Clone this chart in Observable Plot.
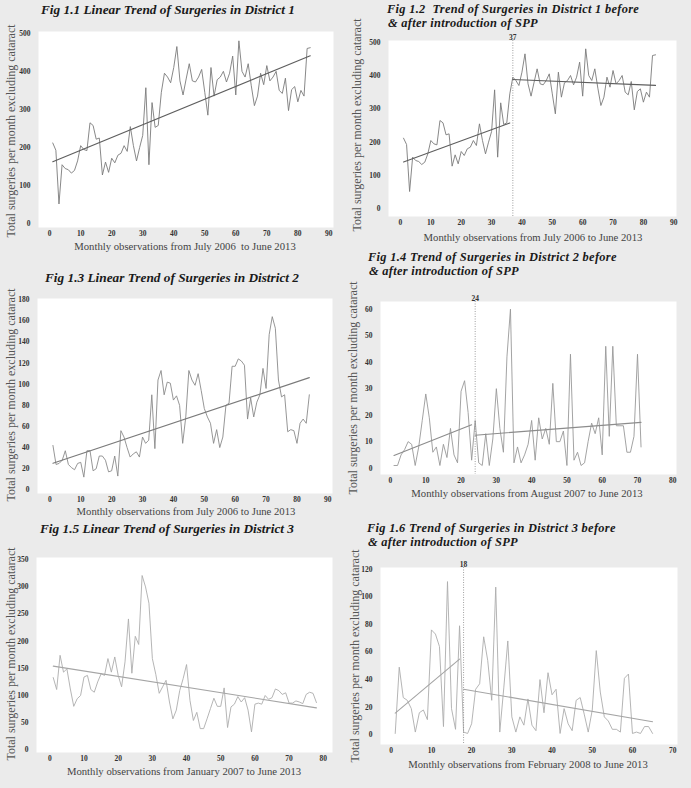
<!DOCTYPE html>
<html><head><meta charset="utf-8">
<script src="https://cdn.jsdelivr.net/npm/d3@7"></script>
<script src="https://cdn.jsdelivr.net/npm/@observablehq/plot@0.6"></script>
<style>
body{margin:0;background:#ebebeb;}
#root{position:relative;width:691px;height:788px;background:#ebebeb;overflow:hidden;font-family:"Liberation Serif","Times New Roman",serif;}
.t{position:absolute;font-weight:bold;font-style:italic;font-size:13.3px;color:#1a1a1a;white-space:pre;line-height:12px;height:12px}
.t2{font-size:12.4px;letter-spacing:0.3px}
.tc{transform:translate(-50%,-50%)}
.xl{position:absolute;font-size:10.7px;color:#444;white-space:pre;transform:translate(-50%,-50%)}
.yl{position:absolute;font-size:12px;color:#555;white-space:nowrap;transform:translate(-50%,-50%) rotate(-90deg)}
.p{position:absolute}
</style></head><body><div id="root"></div>
<script>
// District 1, July 2006 - June 2013
const dist1 = [212,193,52,155,145,142,133,140,165,205,195,192,265,258,222,225,128,162,135,172,160,180,185,205,190,255,205,165,200,232,357,155,318,253,258,345,395,385,370,410,465,375,338,380,420,375,372,385,405,345,285,410,335,378,385,400,372,395,440,338,480,400,385,420,362,310,335,395,365,415,375,385,400,350,342,382,297,352,360,320,350,335,460,462];
// District 2, July 2006 - June 2013
const dist2 = [42,24,25,28,37,24,21,19,25,26,12,37,37,18,20,32,32,28,17,18,32,13,56,50,40,31,34,36,31,50,44,47,90,39,104,113,90,102,101,85,89,80,44,69,113,104,99,110,94,77,69,63,44,57,40,50,80,82,117,117,124,122,118,67,87,69,83,90,115,96,147,164,153,104,88,90,55,57,56,44,63,67,63,90];
// District 2, August 2007 - June 2013
const dist2b = [1,1,5,7,10,9,1,8,18,28,19,6,8,1,9,4,15,5,2,29,33,21,3,18,2,1,13,1,11,30,15,6,42,60,2,8,2,5,9,18,3,19,11,15,9,32,10,10,14,1,43,3,6,1,2,10,17,13,19,5,46,12,46,16,16,16,6,6,12,43,8];
// District 3, January 2007 - June 2013
const dist3 = [133,111,174,143,149,112,80,94,100,134,137,111,106,125,140,137,168,143,171,137,116,162,241,141,209,194,321,300,270,168,139,104,116,128,88,57,73,109,131,157,91,54,69,39,39,57,76,95,80,80,114,41,79,84,98,88,96,73,33,84,86,84,100,93,96,112,109,102,105,86,86,90,88,85,102,106,104,87];
// District 3, February 2008 - June 2013
const dist3b = [1,49,27,25,19,2,16,18,11,76,73,64,6,111,19,4,79,2,1,8,33,37,71,54,25,107,2,34,68,13,2,13,7,26,7,3,40,16,45,29,33,1,19,8,3,25,27,15,2,18,61,31,13,10,4,4,2,41,44,1,2,1,6,6,1];

const titles = [
  ["Fig 1.1 Linear Trend of Surgeries in District 1"],
  ["Fig 1.2  Trend of Surgeries in District 1 before", "& after introduction of SPP"],
  ["Fig 1.3 Linear Trend of Surgeries in District 2"],
  ["Fig 1.4 Trend of Surgeries in District 2 before", "& after introduction of SPP"],
  ["Fig 1.5 Linear Trend of Surgeries in District 3"],
  ["Fig 1.6 Trend of Surgeries in District 3 before", "& after introduction of SPP"]
];
const xLabels = [
  "Monthly observations from July 2006  to June 2013",
  "Monthly observations from July 2006 to June 2013",
  "Monthly observations from July 2006 to June 2013",
  "Monthly observations from August 2007 to June 2013",
  "Monthly observations from January 2007 to June 2013",
  "Monthly observations from February 2008 to June 2013"
];
const yLabel = "Total surgeries per month excluding cataract";
const breaks = [null, 37, null, 24, null, 18];
const xTicks = [d3.range(0,91,10), d3.range(0,91,10), d3.range(0,91,10), d3.range(0,81,10), d3.range(0,81,10), d3.range(0,71,10)];
const yTicks = [d3.range(0,501,100), d3.range(0,501,100), d3.range(0,181,20), d3.range(0,61,10), d3.range(0,351,50), d3.range(0,121,20)];
const series = [dist1, dist1, dist2, dist2b, dist3, dist3b];

const layout = [
  {plot:[38,31,333,227], xd:[-3.6,91.5], yd:[-9.7,504.5], t:{c:[168,10]}, xl:[185,246], yl:[11,131], lc:"#7a7a7a", tc:"#5e5e5e"},
  {plot:[388,40,676,216], xd:[-3.95,90.9], yd:[-23,505], t:{l:[387,3]}, xl:[533,237], yl:[357,125], lc:"#7a7a7a", tc:"#5e5e5e"},
  {plot:[37,298,332,493], xd:[-4,91.5], yd:[-3.5,181.2], t:{c:[172,278]}, xl:[186,511], yl:[11,395], lc:"#8a8a8a", tc:"#7a7a7a"},
  {plot:[380,301,676,474], xd:[-2.83,81.05], yd:[-2.4,62.9], t:{l:[368,251]}, xl:[527,493], yl:[353,388], lc:"#999", tc:"#8c8c8c"},
  {plot:[36,557,332,752], xd:[-3.9,82.7], yd:[-5,354.2], t:{c:[167,529]}, xl:[184,771], yl:[11,654], lc:"#adadad", tc:"#a5a5a5"},
  {plot:[380,567,677,744], xd:[-2.66,71.2], yd:[-7,121.2], t:{l:[367,522]}, xl:[528,764], yl:[355,656], lc:"#adadad", tc:"#a5a5a5"}
];

const root = document.getElementById("root");
const ML=30, MT=14, MR=6, MB=16;

layout.forEach((L, i) => {
  const brk = breaks[i];
  const ser = series[i].map((v, k) => ({x: k + 1, y: v, seg: brk && (k + 1) >= brk ? "after" : "before"}));
  const [l, t, r, b] = L.plot;
  const marks = [
    Plot.frame({fill: "white", stroke: null}),
    Plot.axisX({ticks: xTicks[i], tickSize: 0, tickPadding: 3, label: null, tickFormat: d => d}),
    Plot.axisY({ticks: yTicks[i], tickSize: 0, tickPadding: 8, label: null, tickFormat: d => d}),
    Plot.line(ser, {x: "x", y: "y", stroke: L.lc, strokeWidth: 0.9}),
    Plot.linearRegressionY(ser, {x: "x", y: "y", z: "seg", stroke: L.tc, strokeWidth: 1.1, ci: 0})
  ];
  if (brk) {
    marks.push(Plot.ruleX([brk], {x: d => d, stroke: "#888", strokeWidth: 0.8, strokeDasharray: "1,1.5"}));
    marks.push(Plot.text([brk], {x: d => d, frameAnchor: "top", dy: -6, text: d => String(d), fill: "#333"}));
  }
  const svg = Plot.plot({
    width: (r - l) + ML + MR,
    height: (b - t) + MT + MB,
    marginLeft: ML, marginRight: MR, marginTop: MT, marginBottom: MB,
    x: {domain: L.xd},
    y: {domain: L.yd},
    style: {background: "transparent", fontFamily: "'Liberation Serif', serif", fontWeight: "bold", fontSize: "7.5px", color: "#333"},
    marks
  });
  const wrap = document.createElement("div");
  wrap.className = "p";
  wrap.style.left = (l - ML) + "px";
  wrap.style.top = (t - MT) + "px";
  wrap.appendChild(svg);
  root.appendChild(wrap);

  titles[i].forEach((line, j) => {
    const td = document.createElement("div");
    td.className = "t";
    td.textContent = line;
    if (L.t.c) { td.classList.add("tc"); td.style.left = L.t.c[0] + "px"; td.style.top = L.t.c[1] + "px"; }
    else { td.classList.add("t2"); td.style.left = (L.t.l[0] + j) + "px"; td.style.top = (L.t.l[1] + j * 14) + "px"; }
    root.appendChild(td);
  });

  const xd = document.createElement("div");
  xd.className = "xl";
  xd.textContent = xLabels[i];
  xd.style.left = L.xl[0] + "px"; xd.style.top = L.xl[1] + "px";
  root.appendChild(xd);

  const yd = document.createElement("div");
  yd.className = "yl";
  yd.textContent = yLabel;
  yd.style.left = L.yl[0] + "px"; yd.style.top = L.yl[1] + "px";
  root.appendChild(yd);
});
</script></body></html>
